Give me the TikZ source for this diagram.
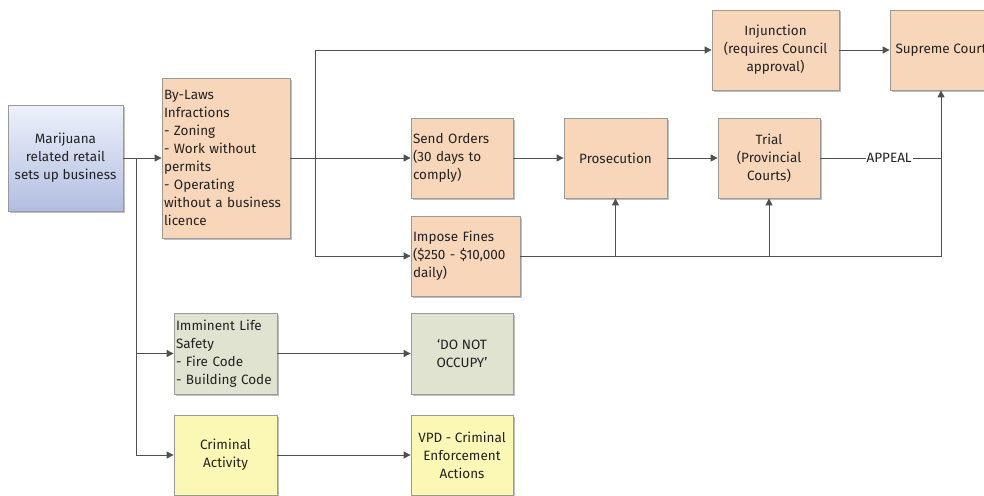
\documentclass[tikz,border=0pt]{standalone}
\usepackage{fontspec}
\setmainfont{Fira Sans}
\usetikzlibrary{arrows.meta,shadows}
\definecolor{peach}{HTML}{F8D6BA}
\definecolor{sage}{HTML}{DFE3D0}
\definecolor{paleyel}{HTML}{FBF8B6}
\definecolor{bluetop}{HTML}{EEF1FA}
\definecolor{bluebot}{HTML}{B2BEE2}
\definecolor{linec}{HTML}{505050}
\definecolor{boxline}{HTML}{9A9A9A}
\definecolor{txt}{HTML}{222222}
\tikzset{
  box/.style={draw=boxline, line width=0.8pt, text=txt, inner sep=3pt,
    font=\fontsize{13.5}{18}\selectfont,
    drop shadow={shadow xshift=1.5pt, shadow yshift=-1.5pt, opacity=0.25, fill=black}},
  wh/.style 2 args={minimum width=#1, minimum height=#2},
  orangebox/.style={box, fill=peach},
  flow/.style={draw=linec, line width=0.9pt, -{Triangle[length=7pt,width=7pt]}},
  plain/.style={draw=linec, line width=0.9pt},
}
\begin{document}
\begin{tikzpicture}[x=1pt,y=-1pt]
\useasboundingbox (0,0) rectangle (984,495);
\clip (0,0) rectangle (984,495);
\fill[white] (0,0) rectangle (984,495);

\node[box, wh={115}{106}, top color=bluetop, bottom color=bluebot, align=center] (mj) at (65.5,158)
  {Marijuana\\related retail\\sets up business};
\node[orangebox, wh={128}{160}, align=left, text width=124, inner sep=2pt] (bylaws) at (226,158)
  {By-Laws\\Infractions\\- Zoning\\- Work without\\permits\\- Operating\\without a business\\licence};
\node[orangebox, wh={102}{80}, align=left, text width=98, inner sep=2pt] (send) at (462,158)
  {Send Orders\\(30 days to\\comply)};
\node[orangebox, wh={103}{80}, align=center] (pros) at (615.5,158) {Prosecution};
\node[orangebox, wh={102}{80}, align=center] (trial) at (769,158) {Trial\\(Provincial\\Courts)};
\node[orangebox, wh={109}{80}, align=left, text width=105, inner sep=2pt] (fines) at (465.5,256)
  {Impose Fines\\(\$250 - \$10,000\\daily)};
\node[orangebox, wh={127}{80}, align=center] (inj) at (775.5,50)
  {Injunction\\(requires Council\\approval)};
\node[orangebox, wh={102}{80}, align=center, inner sep=0pt] (sc) at (941,50) {Supreme Court};
\node[box, fill=sage, wh={103}{81}, align=left, text width=99, inner sep=2pt] (ils) at (225.5,353.5)
  {Imminent Life\\Safety\\- Fire Code\\- Building Code};
\node[box, fill=sage, wh={102}{81}, align=center] (dno) at (462,353.5) {‘DO NOT\\OCCUPY’};
\node[box, fill=paleyel, wh={103}{80}, align=center] (crim) at (225.5,455) {Criminal\\Activity};
\node[box, fill=paleyel, wh={102}{80}, align=center] (vpd) at (462,455)
  {VPD - Criminal\\Enforcement\\Actions};

\coordinate (br) at (136,158);
\coordinate (sp) at (315,158);

\draw[flow] (mj.east) -- (bylaws.west);
\draw[flow] (br) |- (ils.west);
\draw[flow] (br) |- (crim.west);
\draw[plain] (bylaws.east) -- (sp);
\draw[flow] (sp) -- (send.west);
\draw[flow] (sp) |- (inj.west);
\draw[flow] (sp) |- (fines.west);
\draw[flow] (send.east) -- (pros.west);
\draw[flow] (pros.east) -- (trial.west);
\draw[flow] (inj.east) -- (sc.west);
\draw[flow] (fines.east) -| (sc.south);
\draw[flow] (pros.south |- fines.east) -- (pros.south);
\draw[flow] (trial.south |- fines.east) -- (trial.south);
\draw[plain] (trial.east) -- node[pos=0.57, fill=white, inner sep=1pt, text=txt,
  font=\fontsize{13.5}{18}\selectfont] (appeal) {APPEAL} (sc.south |- trial.east);
\draw[flow] (ils.east) -- (dno.west);
\draw[flow] (crim.east) -- (vpd.west);
\end{tikzpicture}
\end{document}
